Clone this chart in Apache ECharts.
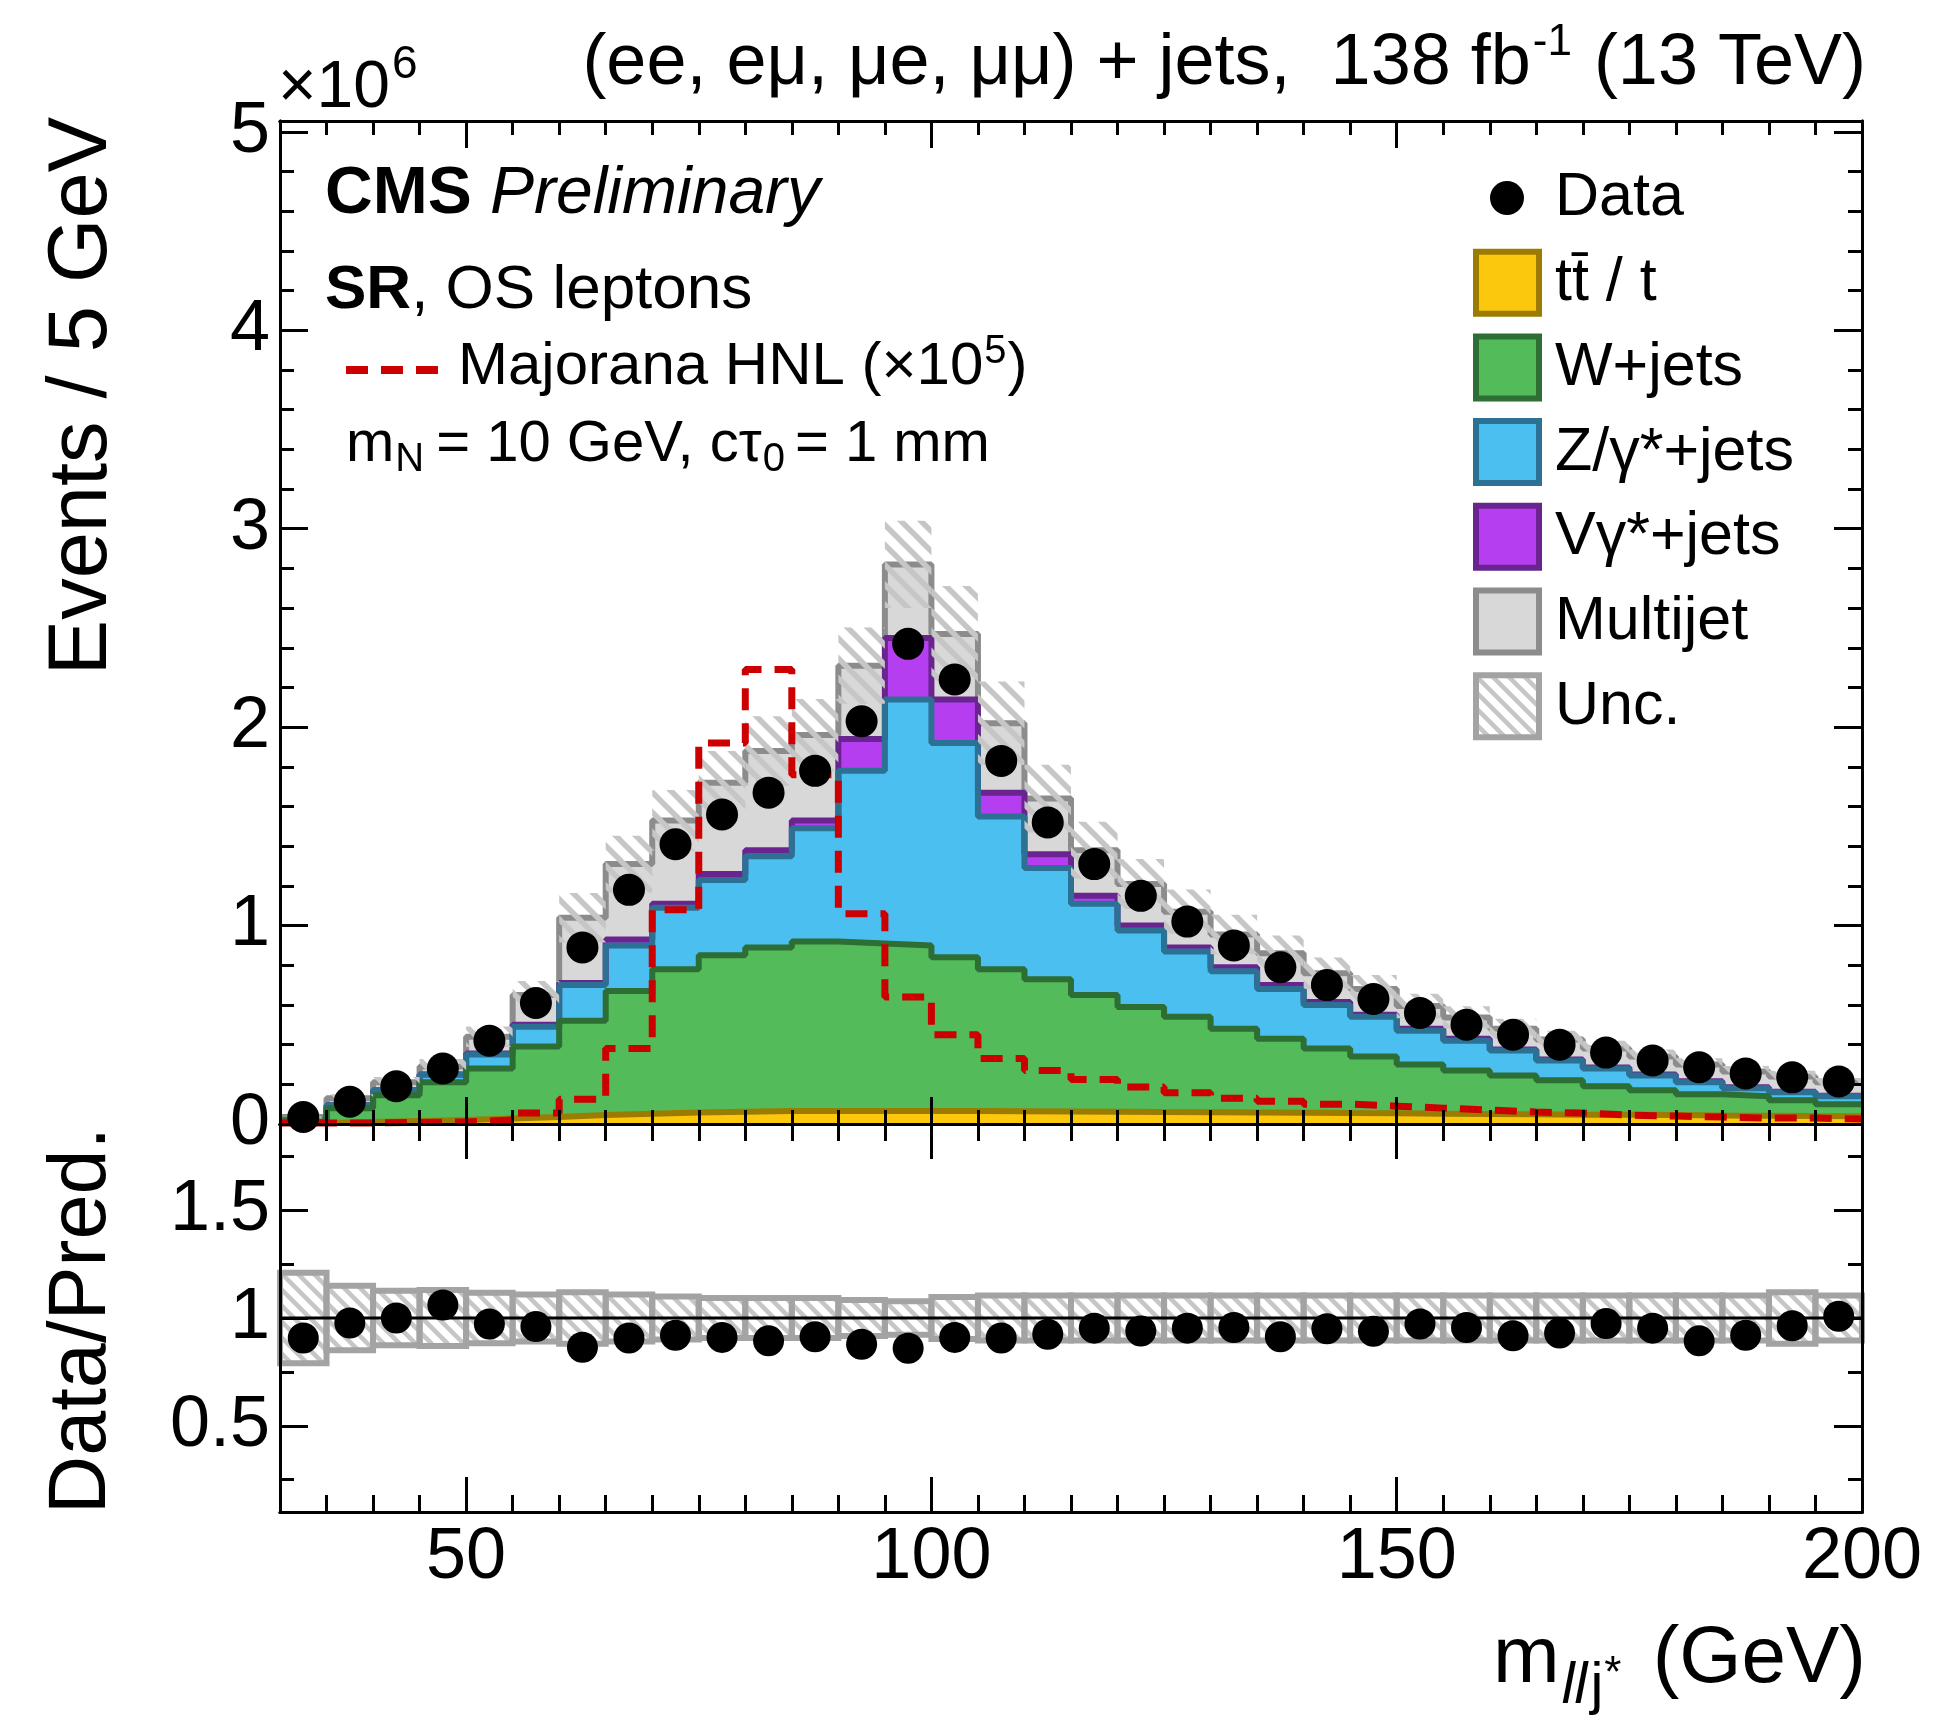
<!DOCTYPE html>
<html>
<head>
<meta charset="utf-8">
<title>m_llj* distribution, SR OS leptons</title>
<script src="https://cdn.jsdelivr.net/npm/echarts@6/dist/echarts.min.js"></script>
<style>
  html, body { margin: 0; padding: 0; background: #fff; }
  #chart { width: 1936px; height: 1715px; }
</style>
</head>
<body>
<div id="chart"></div>
<script>
// bins: low edges in GeV, 5 GeV wide
const binLow = [30, 35, 40, 45, 50, 55, 60, 65, 70, 75, 80, 85, 90, 95, 100, 105, 110, 115,
  120, 125, 130, 135, 140, 145, 150, 155, 160, 165, 170, 175, 180, 185, 190, 195];
const binWidth = 5;

// events / 5 GeV, in units of 1e6
const ttbar = [0.005, 0.010, 0.015, 0.020, 0.028, 0.035, 0.045, 0.052, 0.058, 0.062, 0.065, 0.066, 0.066, 0.066, 0.065, 0.064, 0.063,
  0.062, 0.060, 0.059, 0.058, 0.057, 0.055, 0.054, 0.052, 0.050, 0.049, 0.047, 0.046, 0.045, 0.043, 0.042, 0.040, 0.039];
const wjets = [0.010, 0.070, 0.130, 0.190, 0.252, 0.355, 0.475, 0.618, 0.722, 0.788, 0.825, 0.854, 0.844, 0.834, 0.775, 0.716, 0.667,
  0.588, 0.530, 0.481, 0.422, 0.373, 0.325, 0.286, 0.248, 0.220, 0.196, 0.173, 0.144, 0.125, 0.107, 0.098, 0.080, 0.061];
const zjets = [0.003, 0.015, 0.025, 0.040, 0.070, 0.100, 0.180, 0.230, 0.310, 0.380, 0.460, 0.570, 0.870, 1.240, 1.080, 0.770, 0.560,
  0.460, 0.385, 0.330, 0.290, 0.250, 0.220, 0.200, 0.170, 0.150, 0.125, 0.100, 0.090, 0.075, 0.060, 0.040, 0.040, 0.040];
const vgjets = [0.000, 0.000, 0.000, 0.000, 0.005, 0.010, 0.010, 0.030, 0.020, 0.030, 0.030, 0.040, 0.160, 0.310, 0.220, 0.120, 0.070,
  0.040, 0.025, 0.020, 0.020, 0.020, 0.015, 0.010, 0.010, 0.010, 0.005, 0.005, 0.005, 0.005, 0.005, 0.005, 0.003, 0.003];
const multijet = [0.017, 0.035, 0.040, 0.040, 0.085, 0.150, 0.330, 0.380, 0.420, 0.460, 0.500, 0.430, 0.370, 0.370, 0.330, 0.350, 0.280,
  0.230, 0.210, 0.180, 0.165, 0.160, 0.145, 0.130, 0.115, 0.107, 0.105, 0.101, 0.095, 0.090, 0.085, 0.080, 0.077, 0.067];
const dataObs = [0.035, 0.112, 0.190, 0.280, 0.420, 0.610, 0.890, 1.180, 1.410, 1.560, 1.670, 1.780, 2.030, 2.420, 2.240, 1.830, 1.520,
  1.310, 1.150, 1.020, 0.900, 0.790, 0.700, 0.630, 0.560, 0.500, 0.450, 0.400, 0.360, 0.320, 0.286, 0.255, 0.235, 0.214];
// Majorana HNL, already scaled x1e5
const hnlSignal = [0.005, 0.005, 0.008, 0.010, 0.020, 0.055, 0.125, 0.380, 1.080, 1.920, 2.290, 1.760, 1.060, 0.640, 0.450, 0.330, 0.270,
  0.224, 0.187, 0.158, 0.130, 0.115, 0.100, 0.090, 0.080, 0.070, 0.060, 0.055, 0.045, 0.040, 0.035, 0.030, 0.030, 0.025];
// lower panel
const ratioObs = [0.907, 0.977, 1.000, 1.060, 0.972, 0.960, 0.864, 0.907, 0.920, 0.910, 0.894, 0.913, 0.878, 0.860, 0.910, 0.907, 0.925,
  0.953, 0.940, 0.953, 0.956, 0.913, 0.950, 0.938, 0.972, 0.956, 0.918, 0.930, 0.974, 0.953, 0.894, 0.920, 0.964, 1.008];
const relUnc = [0.210, 0.150, 0.126, 0.130, 0.117, 0.109, 0.120, 0.109, 0.100, 0.093, 0.093, 0.093, 0.083, 0.078, 0.098, 0.104, 0.104,
  0.104, 0.104, 0.104, 0.104, 0.104, 0.104, 0.104, 0.104, 0.104, 0.104, 0.104, 0.104, 0.104, 0.104, 0.104, 0.120, 0.104];

// ticks
const xMajor = [50, 100, 150, 200];
const xMinor = [35, 40, 45, 55, 60, 65, 70, 75, 80, 85, 90, 95, 105, 110, 115, 120, 125, 130, 135, 140, 145,
  155, 160, 165, 170, 175, 180, 185, 190, 195];
const yMainMajor = [0, 1, 2, 3, 4, 5];
const yMainMinor = [0.2, 0.4, 0.6, 0.8, 1.2, 1.4, 1.6, 1.8, 2.2, 2.4, 2.6, 2.8, 3.2, 3.4, 3.6, 3.8, 4.2, 4.4, 4.6, 4.8];
const yRatioMajor = [0.5, 1, 1.5];
const yRatioMinor = [0.25, 0.75, 1.25, 1.75];

const FONT = '"Liberation Sans", Arial, Helvetica, sans-serif';

const chart = echarts.init(document.getElementById('chart'), null, { renderer: 'canvas' });

// hatch used for the uncertainty band
function makeHatch(size, lw) {
  const c = document.createElement('canvas');
  c.width = size; c.height = size;
  const g = c.getContext('2d');
  g.strokeStyle = '#c6c6c6';
  g.lineWidth = lw;
  for (const k of [-size, 0, size]) {
    g.beginPath(); g.moveTo(k - 4, -4); g.lineTo(k + size + 4, size + 4); g.stroke();
  }
  return c;
}
const hatchMain = { image: makeHatch(20, 5.5), repeat: 'repeat' };
const hatchBox = { image: makeHatch(16, 4.5), repeat: 'repeat' };

// cumulative stack
const comps = [ttbar, wjets, zjets, vgjets, multijet];
const cum = [];
let run = binLow.map(() => 0);
comps.forEach(c => { run = run.map((r, i) => r + c[i]); cum.push(run); });
const total = cum[4];

function steps(vals) {
  const d = vals.map((v, i) => [binLow[i], v]);
  d.push([binLow[binLow.length - 1] + binWidth, vals[vals.length - 1]]);
  return d;
}
function stackLayer(name, vals, fill, line) {
  return {
    name, type: 'line', xAxisIndex: 0, yAxisIndex: 0, step: 'end', symbol: 'none',
    data: steps(vals), silent: true, z: 2,
    lineStyle: { color: line, width: 6 },
    areaStyle: { color: fill, opacity: 1 }
  };
}

// axes (ROOT style frame: ticks inside, mirrored)
function xAx(grid, pos, ticks, len, labels) {
  return {
    type: 'value', gridIndex: grid, position: pos, min: 30, max: 200, z: 10,
    axisLine: { show: true, onZero: false, lineStyle: { color: '#000', width: 3 } },
    axisTick: { show: true, inside: true, length: len, customValues: ticks, lineStyle: { color: '#000', width: 3 } },
    axisLabel: labels ? { show: true, customValues: labels, margin: 10, fontSize: 72, fontFamily: FONT, color: '#000' } : { show: false },
    splitLine: { show: false }
  };
}
function yAx(grid, pos, min, max, ticks, len, labels) {
  return {
    type: 'value', gridIndex: grid, position: pos, min, max, z: 10,
    axisLine: { show: true, onZero: false, lineStyle: { color: '#000', width: 3 } },
    axisTick: { show: true, inside: true, length: len, customValues: ticks, lineStyle: { color: '#000', width: 3 } },
    axisLabel: labels ? { show: true, customValues: labels, margin: 10, fontSize: 72, fontFamily: FONT, color: '#000' } : { show: false },
    splitLine: { show: false }
  };
}

// text helpers
const mctx = document.createElement('canvas').getContext('2d');
function font(size, w, s) { return (s || '') + ' ' + (w || '') + ' ' + size + 'px ' + FONT; }
function tw(str, f) { mctx.font = f; return mctx.measureText(str).width; }
function txt(x, base, str, size, opt) {
  opt = opt || {};
  return {
    type: 'text', x, y: base - 0.347 * size, z: 100,
    style: { text: str, font: font(size, opt.w, opt.s), fill: opt.color || '#000', align: opt.align || 'left', verticalAlign: 'middle' }
  };
}

const g = [];
// top title, right aligned at frame edge
{
  const f1 = font(72), f2 = font(44);
  const p1 = '(ee, e\u03bc, \u03bce, \u03bc\u03bc) + jets,  138 fb', p2 = '-1', p3 = ' (13 TeV)';
  let x = 1866 - tw(p3, f1);
  g.push(txt(x, 89, p3, 72));
  x -= tw(p2, f2) + 2;
  g.push(txt(x, 58, p2, 44));
  x -= tw(p1, f1) + 2;
  g.push(txt(x, 89, p1, 72));
}
// x10^6
g.push(txt(278, 112, '\u00d710', 66));
g.push(txt(278 + tw('\u00d710', font(66)) + 2, 81, '6', 46));
// axis titles
g.push({ type: 'text', x: 83, y: 117, rotation: Math.PI / 2, z: 100,
  style: { text: 'Events / 5 GeV', font: font(83), fill: '#000', align: 'right', verticalAlign: 'middle' } });
g.push({ type: 'text', x: 83, y: 1127, rotation: Math.PI / 2, z: 100,
  style: { text: 'Data/Pred.', font: font(81), fill: '#000', align: 'right', verticalAlign: 'middle' } });
{
  g.push(txt(1493, 1688, 'm', 80));
  let x = 1493 + tw('m', font(80)) + 2;
  g.push(txt(x, 1707, 'll', 58, { s: 'italic' }));
  x += tw('ll', font(58, '', 'italic')) + 3;
  g.push(txt(x, 1707, 'j', 58));
  x += tw('j', font(58)) + 1;
  g.push(txt(x, 1690, '*', 44));
  g.push(txt(1866, 1688, '(GeV)', 80, { align: 'right' }));
}
// CMS label block
g.push(txt(325, 218, 'CMS', 66, { w: 'bold' }));
g.push(txt(325 + tw('CMS ', font(66, 'bold')), 218, 'Preliminary', 66, { s: 'italic' }));
g.push(txt(325, 312, 'SR', 62, { w: 'bold' }));
g.push(txt(325 + tw('SR', font(62, 'bold')), 312, ', OS leptons', 62));
g.push({ type: 'line', z: 100, shape: { x1: 346, y1: 370, x2: 440, y2: 370 },
  style: { stroke: '#cc0000', lineWidth: 8, lineDash: [22, 13] } });
{
  const a = 'Majorana HNL (\u00d710';
  g.push(txt(458, 388, a, 60));
  let x = 458 + tw(a, font(60)) + 1;
  g.push(txt(x, 366, '5', 40));
  x += tw('5', font(40)) + 1;
  g.push(txt(x, 388, ')', 60));
}
{
  let x = 346;
  g.push(txt(x, 465, 'm', 58)); x += tw('m', font(58)) + 1;
  g.push(txt(x, 474, 'N', 40)); x += tw('N', font(40)) + 12;
  g.push(txt(x, 465, '= 10 GeV, c\u03c4', 58)); x += tw('= 10 GeV, c\u03c4', font(58)) + 1;
  g.push(txt(x, 474, '0', 40)); x += tw('0', font(40)) + 10;
  g.push(txt(x, 465, '= 1 mm', 58));
}
// legend
const legendRows = [
  { label: 'Data', kind: 'dot' },
  { label: 'tt\u0304 / t', fill: '#fcc80e', line: '#9c7c00' },
  { label: 'W+jets', fill: '#53bb59', line: '#2d6e34' },
  { label: 'Z/\u03b3*+jets', fill: '#4bbfef', line: '#2c7194' },
  { label: 'V\u03b3*+jets', fill: '#b53ef0', line: '#6a2490' },
  { label: 'Multijet', fill: '#d8d8d8', line: '#8c8c8c' },
  { label: 'Unc.', fill: hatchBox, line: '#a3a3a3' }
];
legendRows.forEach((r, i) => {
  const cy = 198 + i * 84.7;
  if (r.kind === 'dot') {
    g.push({ type: 'circle', z: 100, shape: { cx: 1507, cy, r: 17 }, style: { fill: '#000' } });
  } else {
    g.push({ type: 'rect', z: 100, shape: { x: 1476, y: cy - 31, width: 63, height: 62 },
      style: { fill: r.fill, stroke: r.line, lineWidth: 6 } });
  }
  g.push(txt(1555, cy + 0.358 * 61, r.label, 61));
});

const option = {
  animation: false,
  backgroundColor: '#fff',
  grid: [
    { left: 280, top: 121, width: 1582, height: 1003 },
    { left: 280, top: 1124, width: 1582, height: 388 }
  ],
  xAxis: [
    xAx(0, 'bottom', xMajor, 27), xAx(0, 'bottom', xMinor, 14),
    xAx(0, 'top', xMajor, 27), xAx(0, 'top', xMinor, 14),
    xAx(1, 'bottom', xMajor, 35, xMajor), xAx(1, 'bottom', xMinor, 17),
    xAx(1, 'top', xMajor, 35), xAx(1, 'top', xMinor, 17)
  ],
  yAxis: [
    yAx(0, 'left', 0, 5.055, yMainMajor, 28, yMainMajor), yAx(0, 'left', 0, 5.055, yMainMinor, 14),
    yAx(0, 'right', 0, 5.055, yMainMajor, 28), yAx(0, 'right', 0, 5.055, yMainMinor, 14),
    yAx(1, 'left', 0.1, 1.9, yRatioMajor, 28, yRatioMajor), yAx(1, 'left', 0.1, 1.9, yRatioMinor, 14),
    yAx(1, 'right', 0.1, 1.9, yRatioMajor, 28), yAx(1, 'right', 0.1, 1.9, yRatioMinor, 14)
  ],
  series: [
    stackLayer('Multijet', cum[4], '#d8d8d8', '#8c8c8c'),
    stackLayer('Vγ*+jets', cum[3], '#b53ef0', '#6a2490'),
    stackLayer('Z/γ*+jets', cum[2], '#4bbfef', '#2c7194'),
    stackLayer('W+jets', cum[1], '#53bb59', '#2d6e34'),
    stackLayer('tt / t', cum[0], '#fcc80e', '#9c7c00'),
    {
      name: 'Unc.', type: 'custom', xAxisIndex: 0, yAxisIndex: 0, silent: true, z: 3,
      data: binLow.map((x, i) => [x, x + binWidth, total[i] * (1 - relUnc[i]), total[i] * (1 + relUnc[i])]),
      encode: { x: [0, 1], y: [2, 3] },
      renderItem: (p, api) => {
        const a = api.coord([api.value(0), api.value(2)]);
        const b = api.coord([api.value(1), api.value(3)]);
        return { type: 'rect', shape: { x: a[0], y: b[1], width: b[0] - a[0], height: a[1] - b[1] }, style: { fill: hatchMain } };
      }
    },
    {
      name: 'Majorana HNL', type: 'line', xAxisIndex: 0, yAxisIndex: 0, step: 'end', symbol: 'none', silent: true, z: 4,
      data: steps(hnlSignal),
      lineStyle: { color: '#cc0000', width: 7, type: [22, 13] }
    },
    {
      name: 'Data', type: 'scatter', xAxisIndex: 0, yAxisIndex: 0, silent: true, clip: false, z: 6,
      data: binLow.map((x, i) => [x + binWidth / 2, dataObs[i]]),
      symbolSize: 32, itemStyle: { color: '#000', opacity: 1 }
    },
    {
      name: 'Unc. ratio', type: 'custom', xAxisIndex: 4, yAxisIndex: 4, silent: true, z: 3,
      data: binLow.map((x, i) => [x, x + binWidth, 1 - relUnc[i], 1 + relUnc[i]]),
      encode: { x: [0, 1], y: [2, 3] },
      renderItem: (p, api) => {
        const a = api.coord([api.value(0), api.value(2)]);
        const b = api.coord([api.value(1), api.value(3)]);
        return { type: 'rect', shape: { x: a[0], y: b[1], width: b[0] - a[0], height: a[1] - b[1] },
          style: { fill: hatchBox, stroke: '#a3a3a3', lineWidth: 6 } };
      }
    },
    {
      name: 'unity', type: 'line', xAxisIndex: 4, yAxisIndex: 4, symbol: 'none', silent: true, z: 4,
      data: [[30, 1], [200, 1]], lineStyle: { color: '#000', width: 3 }
    },
    {
      name: 'Data/Pred.', type: 'scatter', xAxisIndex: 4, yAxisIndex: 4, silent: true, clip: false, z: 6,
      data: binLow.map((x, i) => [x + binWidth / 2, ratioObs[i]]),
      symbolSize: 31, itemStyle: { color: '#000', opacity: 1 }
    }
  ],
  graphic: { elements: g }
};
chart.setOption(option);
</script>
</body>
</html>
